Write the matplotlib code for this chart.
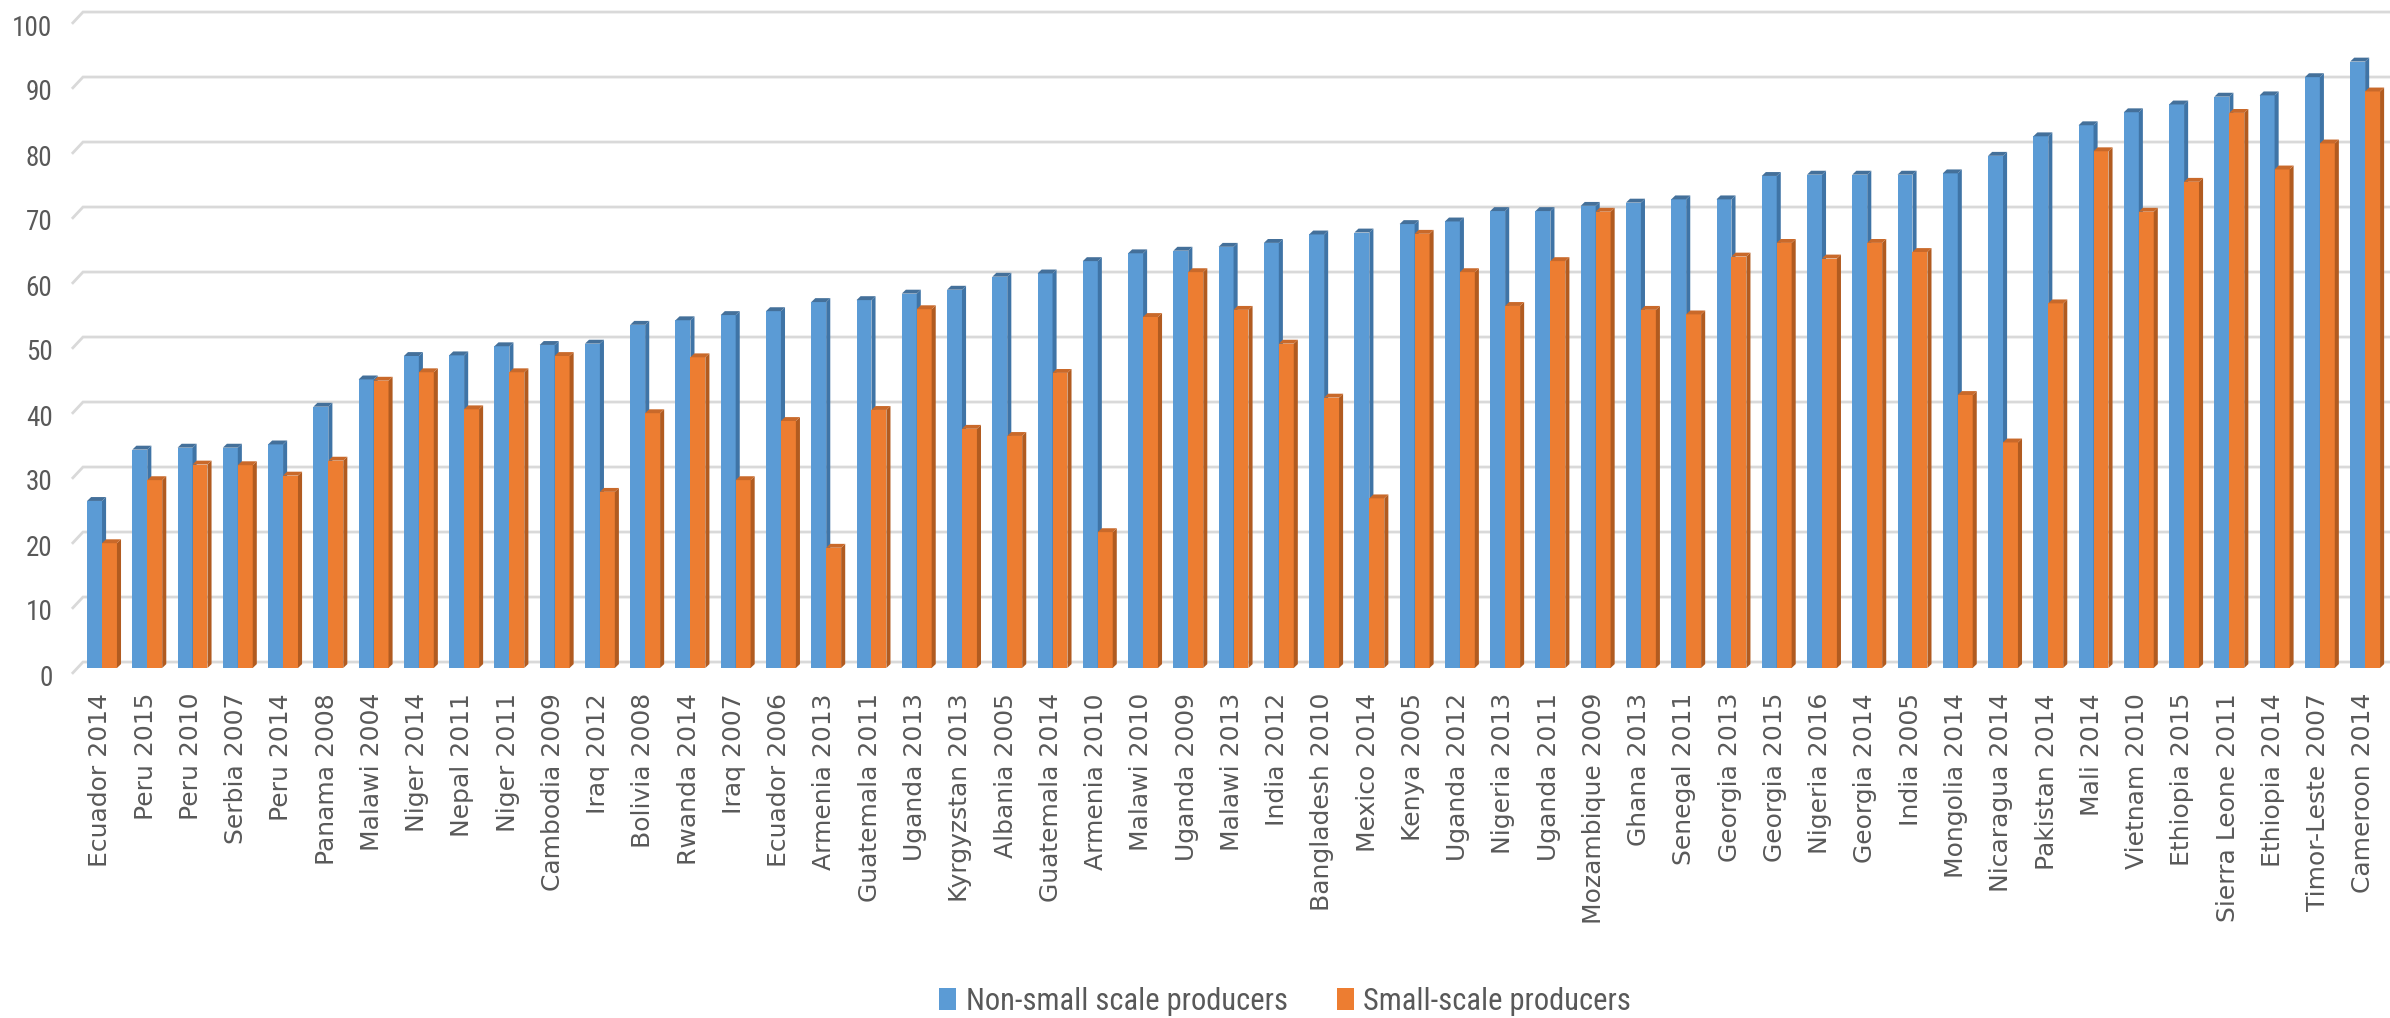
import matplotlib
matplotlib.use("Agg")
import matplotlib.pyplot as plt
from matplotlib import font_manager
from matplotlib.collections import PolyCollection
from matplotlib.patches import Patch
from matplotlib.transforms import ScaledTranslation

# Survey labels (country + year), ordered by the non-small-scale share
categories = [
    "Ecuador 2014", "Peru 2015", "Peru 2010", "Serbia 2007", "Peru 2014",
    "Panama 2008", "Malawi 2004", "Niger 2014", "Nepal 2011", "Niger 2011",
    "Cambodia 2009", "Iraq 2012", "Bolivia 2008", "Rwanda 2014", "Iraq 2007",
    "Ecuador 2006", "Armenia 2013", "Guatemala 2011", "Uganda 2013",
    "Kyrgyzstan 2013", "Albania 2005", "Guatemala 2014", "Armenia 2010",
    "Malawi 2010", "Uganda 2009", "Malawi 2013", "India 2012",
    "Bangladesh 2010", "Mexico 2014", "Kenya 2005", "Uganda 2012",
    "Nigeria 2013", "Uganda 2011", "Mozambique 2009", "Ghana 2013",
    "Senegal 2011", "Georgia 2013", "Georgia 2015", "Nigeria 2016",
    "Georgia 2014", "India 2005", "Mongolia 2014", "Nicaragua 2014",
    "Pakistan 2014", "Mali 2014", "Vietnam 2010", "Ethiopia 2015",
    "Sierra Leone 2011", "Ethiopia 2014", "Timor-Leste 2007", "Cameroon 2014",
]

non_small_scale = [
    25.7, 33.6, 33.9, 33.9, 34.4, 40.2, 44.4, 48.0, 48.1, 49.5,
    49.7, 49.9, 52.8, 53.5, 54.3, 54.9, 56.3, 56.6, 57.6, 58.2,
    60.2, 60.7, 62.6, 63.8, 64.2, 64.8, 65.4, 66.7, 67.0, 68.3,
    68.7, 70.3, 70.3, 71.1, 71.6, 72.1, 72.1, 75.7, 75.9, 75.9,
    75.9, 76.1, 78.8, 81.8, 83.5, 85.5, 86.7, 87.9, 88.1, 90.9,
    93.3,
]

small_scale = [
    19.2, 28.9, 31.3, 31.2, 29.6, 31.9, 44.2, 45.5, 39.8, 45.5,
    48.0, 27.1, 39.2, 47.8, 28.9, 38.0, 18.5, 39.7, 55.2, 36.8,
    35.7, 45.4, 20.9, 54.0, 60.9, 55.1, 49.9, 41.6, 26.1, 66.8,
    60.9, 55.7, 62.6, 70.2, 55.1, 54.4, 63.3, 65.4, 63.0, 65.4,
    64.0, 42.0, 34.7, 56.1, 79.5, 70.2, 74.8, 85.4, 76.7, 80.7,
    88.7,
]

series_names = ["Non-small scale producers", "Small-scale producers"]
y_ticks = list(range(0, 101, 10))

# Colours: front face, side face, top face
BLUE = ("#5B9BD5", "#3F74A6", "#44709A")
ORANGE = ("#ED7D31", "#B15B20", "#C9692A")
GRID = "#D9D9D9"
TEXT = "#595959"

# Pick a narrow sans for the horizontal text if one is installed
installed = {f.name for f in font_manager.fontManager.ttflist}
narrow_props = None
for fam in ["Liberation Sans Narrow", "Arial Narrow", "Roboto Condensed",
            "Open Sans Condensed", "DejaVu Sans Condensed"]:
    if fam in installed:
        narrow_props = dict(family=[fam, "DejaVu Sans"], stretch="normal")
        break
if narrow_props is None:
    condensed = [f for f in font_manager.fontManager.ttflist
                 if f.stretch in ("condensed", "semi-condensed", "extra-condensed")
                 and f.style == "normal" and f.weight in (400, "normal", "regular")]
    if condensed:
        narrow_props = dict(family=[condensed[0].name, "DejaVu Sans"],
                            stretch=condensed[0].stretch)
    else:
        narrow_props = dict(family=["Roboto", "DejaVu Sans"], stretch="normal")

W, H, DPI = 2390, 1018, 100
fig = plt.figure(figsize=(W / DPI, H / DPI), dpi=DPI)
fig.patch.set_facecolor("white")

# Front plane: value 0 at y=668 px, value 100 at y=18 px
ax_left, ax_right = 83 / W, 1.0
ax_bottom, ax_top = 1 - 668 / H, 1 - 18 / H
ax = fig.add_axes([ax_left, ax_bottom, ax_right - ax_left, ax_top - ax_bottom])

x = list(range(len(categories)))
bar_w = 0.33          # width of each front face
depth_x = 0.09        # horizontal depth of the pseudo-3D sides
depth_y = 0.6         # vertical depth of the pseudo-3D caps
wall_shift = 0.92     # back wall sits slightly above the front plane

def draw_3d_bars(lefts, values, colors, z):
    front, side, top = colors
    ax.bar(lefts, values, width=bar_w, align="edge", color=front,
           linewidth=0, zorder=z)
    sides, tops = [], []
    for l, v in zip(lefts, values):
        r = l + bar_w
        sides.append([(r, 0), (r + depth_x, depth_y), (r + depth_x, v + depth_y), (r, v)])
        tops.append([(l, v), (l + depth_x, v + depth_y), (r + depth_x, v + depth_y), (r, v)])
    ax.add_collection(PolyCollection(sides, facecolors=side, edgecolors="none", zorder=z))
    ax.add_collection(PolyCollection(tops, facecolors=top, edgecolors="none", zorder=z))

blue_lefts = [i - 0.38 for i in x]
orange_lefts = [i - 0.05 for i in x]
draw_3d_bars(blue_lefts, non_small_scale, BLUE, 3)
draw_3d_bars(orange_lefts, small_scale, ORANGE, 4)

ax.set_xlim(-0.47, len(categories) - 0.5)
ax.set_ylim(0, 100)

# Back-wall gridlines with a short slanted run on the side wall
x0 = ax.get_xlim()[0]
x1 = ax.get_xlim()[1]
for v in y_ticks:
    ax.plot([x0 - 0.245, x0, x1], [v - 0.9, v + wall_shift, v + wall_shift],
            color=GRID, linewidth=2.0, clip_on=False, zorder=0,
            solid_capstyle="butt", solid_joinstyle="miter")

for s in ax.spines.values():
    s.set_visible(False)

ax.set_yticks(y_ticks)
ax.tick_params(axis="y", length=0, pad=22, labelsize=19.5, labelcolor=TEXT)
for lab in ax.get_yticklabels():
    lab.set_fontfamily(narrow_props["family"])
    lab.set_fontstretch(narrow_props["stretch"])
    lab.set_transform(lab.get_transform() + ScaledTranslation(0, -0.07, fig.dpi_scale_trans))

ax.set_xticks(x)
ax.set_xticklabels(categories, rotation=90, fontsize=18, color=TEXT,
                   fontfamily="DejaVu Sans")
ax.tick_params(axis="x", length=0, pad=18)
for lab in ax.get_xticklabels():
    lab.set_transform(lab.get_transform() + ScaledTranslation(-0.04, 0, fig.dpi_scale_trans))

handles = [Patch(facecolor=BLUE[0], edgecolor="none", label=series_names[0]),
           Patch(facecolor=ORANGE[0], edgecolor="none", label=series_names[1])]
legend_font = font_manager.FontProperties(family=narrow_props["family"],
                                          stretch=narrow_props["stretch"], size=22)
fig.legend(handles=handles, loc="center", bbox_to_anchor=(1285 / W, 1 - 1001 / H),
           ncol=2, frameon=False, handlelength=0.56, handleheight=0.7,
           handletextpad=0.3, columnspacing=1.6, prop=legend_font,
           labelcolor=TEXT)

fig.savefig("out.png", dpi=DPI, facecolor="white")
